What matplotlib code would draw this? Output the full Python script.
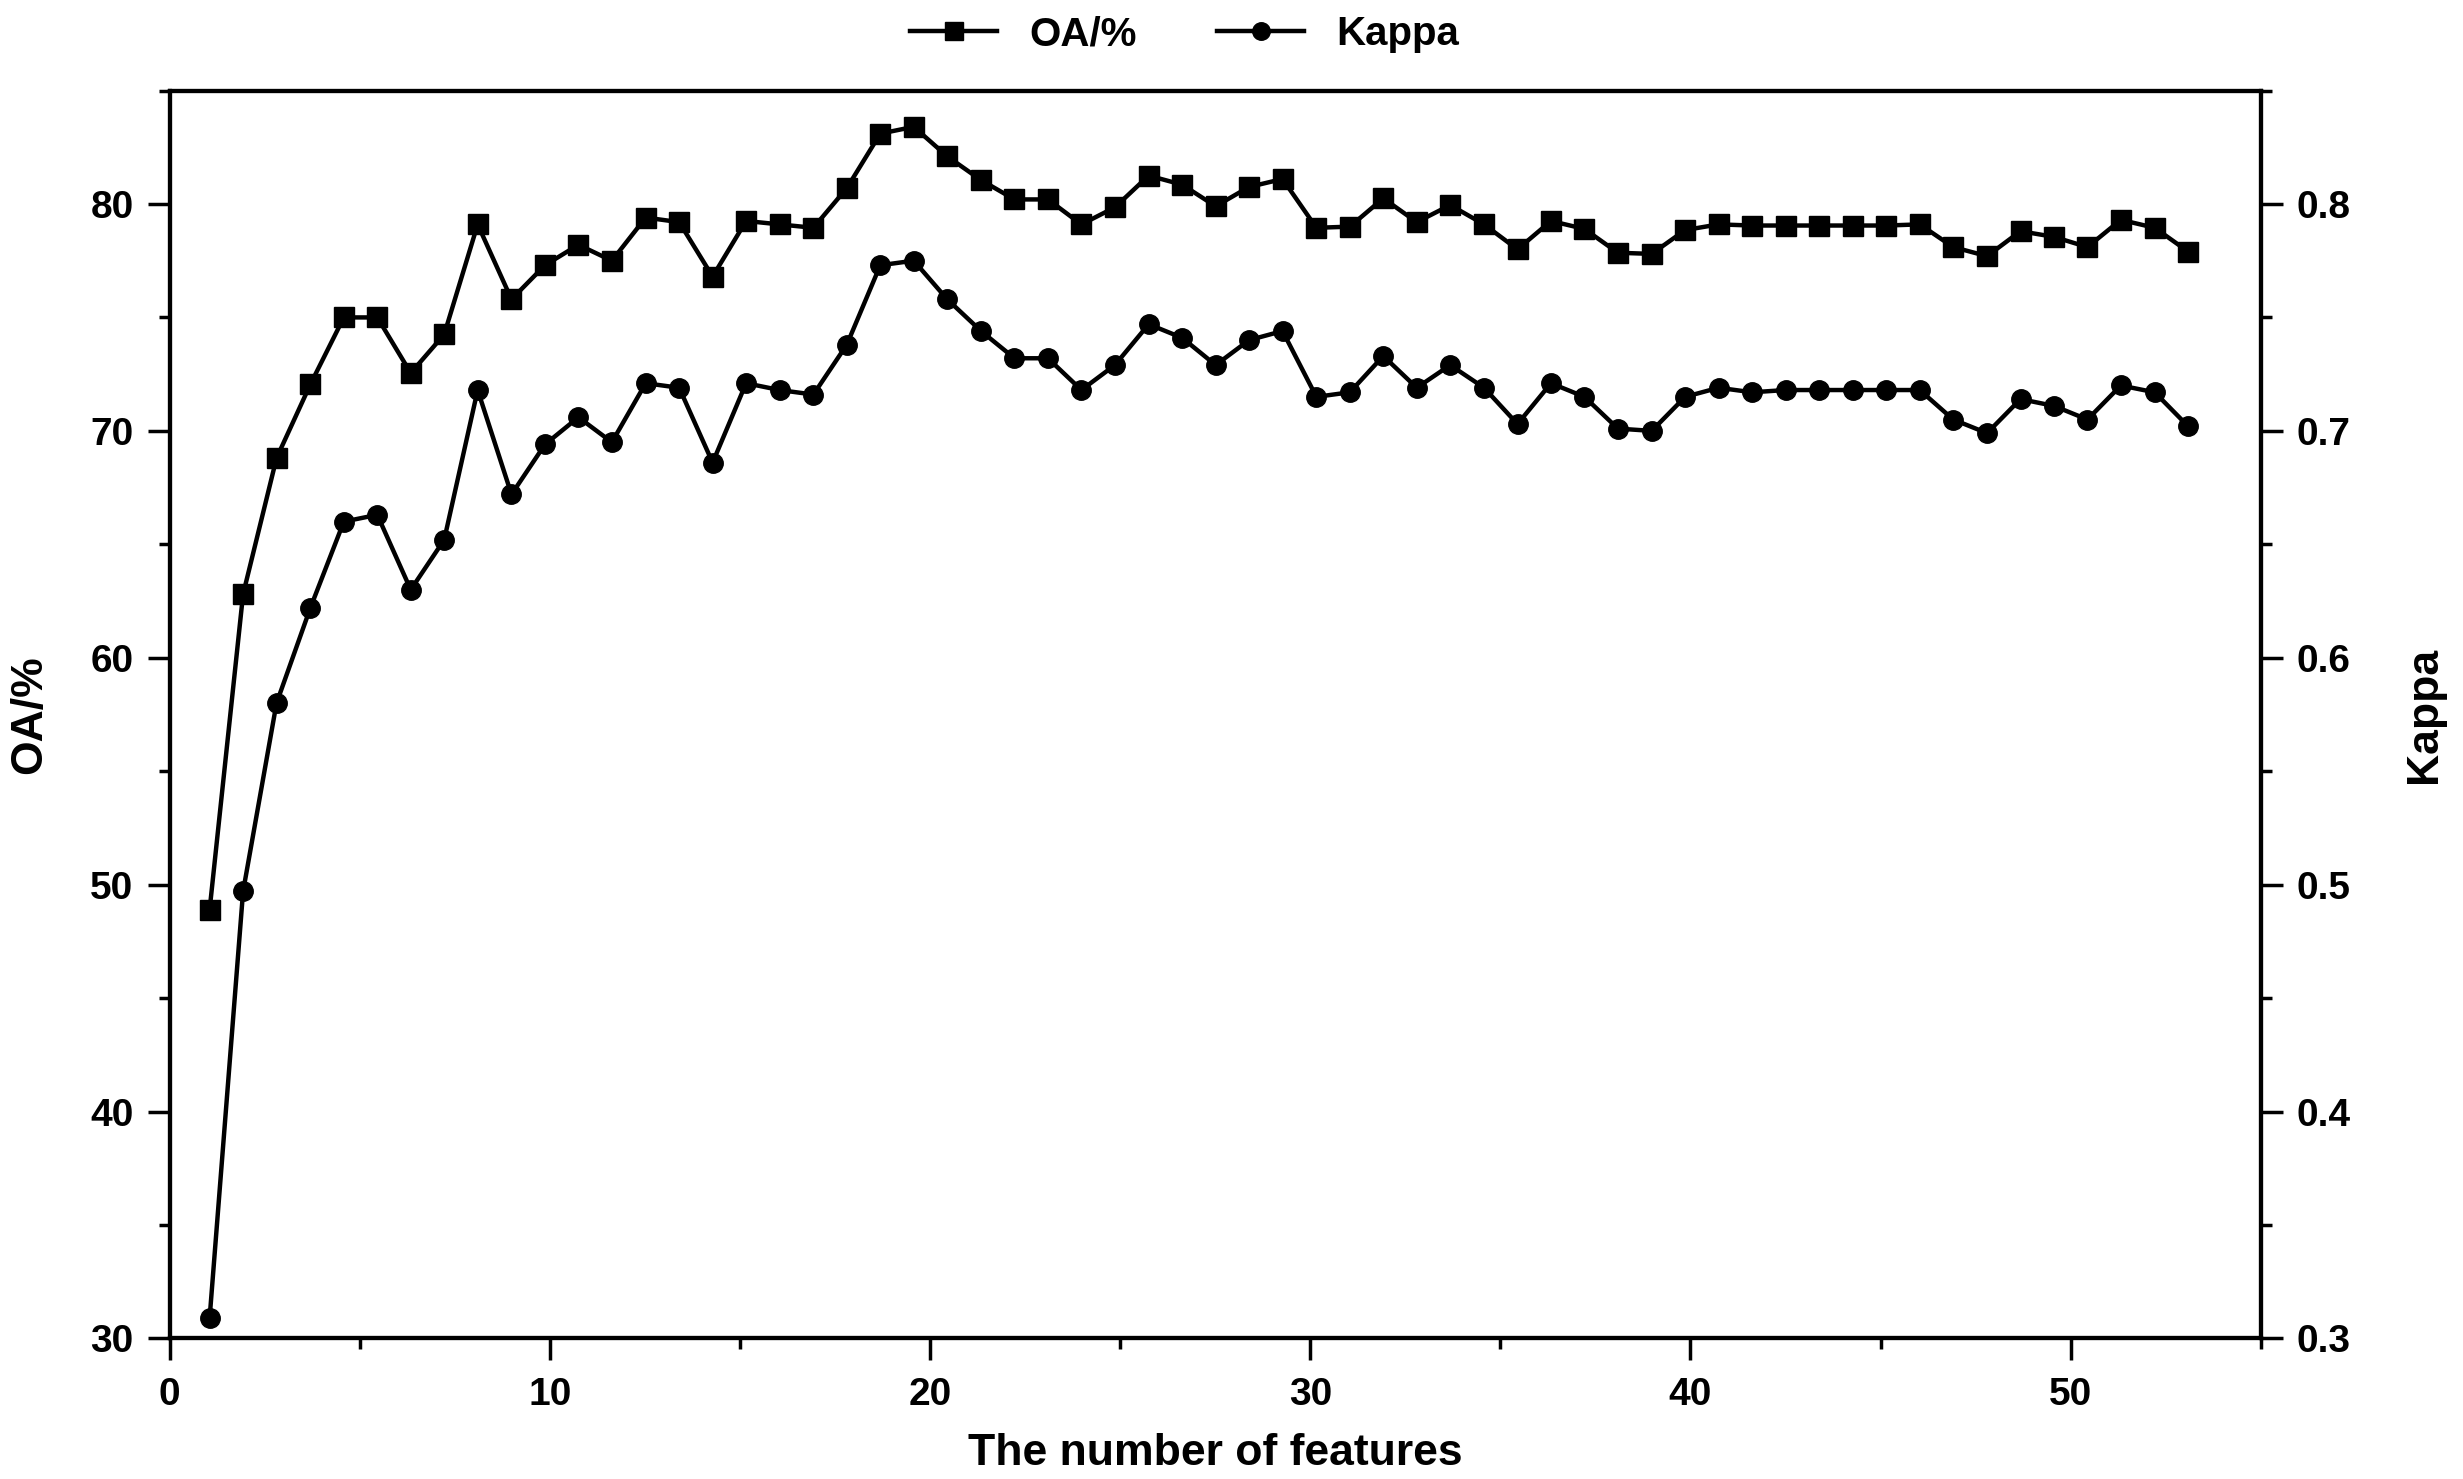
import matplotlib
matplotlib.use("Agg")
import matplotlib.pyplot as plt
from matplotlib.ticker import MultipleLocator

plt.rcParams['font.family'] = ['Liberation Sans', 'DejaVu Sans']
plt.rcParams['font.weight'] = 'bold'

features = [1.05, 1.93, 2.81, 3.70, 4.58, 5.46, 6.34, 7.22, 8.10, 8.99,
            9.87, 10.75, 11.63, 12.52, 13.40, 14.28, 15.16, 16.04, 16.93, 17.81,
            18.69, 19.57, 20.45, 21.34, 22.22, 23.10, 23.98, 24.86, 25.75, 26.63,
            27.51, 28.39, 29.27, 30.16, 31.04, 31.92, 32.80, 33.68, 34.57, 35.45,
            36.33, 37.21, 38.09, 38.98, 39.86, 40.74, 41.62, 42.50, 43.39, 44.27,
            45.15, 46.03, 46.91, 47.80, 48.68, 49.56, 50.44, 51.32, 52.21, 53.09]

oa = [48.9, 62.8, 68.8, 72.05, 75.0, 75.0, 72.55, 74.25, 79.1, 75.8,
      77.3, 78.2, 77.5, 79.4, 79.2, 76.8, 79.25, 79.1, 78.95, 80.7,
      83.1, 83.4, 82.1, 81.05, 80.2, 80.2, 79.1, 79.85, 81.25, 80.85,
      79.9, 80.75, 81.1, 78.95, 79.0, 80.25, 79.2, 79.95, 79.1, 78.0,
      79.25, 78.9, 77.85, 77.8, 78.85, 79.1, 79.05, 79.05, 79.05, 79.05,
      79.05, 79.1, 78.1, 77.7, 78.8, 78.55, 78.1, 79.3, 78.95, 77.9]

kappa = [0.309, 0.497, 0.580, 0.622, 0.660, 0.663, 0.630, 0.652, 0.718, 0.672,
         0.694, 0.706, 0.695, 0.721, 0.719, 0.686, 0.721, 0.718, 0.716, 0.738,
         0.773, 0.775, 0.758, 0.744, 0.732, 0.732, 0.718, 0.729, 0.747, 0.741,
         0.729, 0.740, 0.744, 0.715, 0.717, 0.733, 0.719, 0.729, 0.719, 0.703,
         0.721, 0.715, 0.701, 0.700, 0.715, 0.719, 0.717, 0.718, 0.718, 0.718,
         0.718, 0.718, 0.705, 0.699, 0.714, 0.711, 0.705, 0.720, 0.717, 0.702]

fig = plt.figure(figsize=(24.63, 14.79), dpi=100)
ax = fig.add_axes([0.0689, 0.095, 0.849, 0.8438])
ax2 = ax.twinx()

l1, = ax.plot(features, oa, color='black', lw=3.2, marker='s', markersize=14,
              label='OA/%')
l2, = ax2.plot(features, kappa, color='black', lw=3.2, marker='o', markersize=14,
               label='Kappa')

ax.set_xlim(0, 55)
ax.set_ylim(30, 85)
ax2.set_ylim(0.3, 0.85)

ax.xaxis.set_major_locator(MultipleLocator(10))
ax.xaxis.set_minor_locator(MultipleLocator(5))
ax.yaxis.set_major_locator(MultipleLocator(10))
ax.yaxis.set_minor_locator(MultipleLocator(5))
ax2.yaxis.set_major_locator(MultipleLocator(0.1))
ax2.yaxis.set_minor_locator(MultipleLocator(0.05))
ax2.yaxis.set_major_formatter(matplotlib.ticker.FormatStrFormatter('%.1f'))

for a in (ax, ax2):
    for s in a.spines.values():
        s.set_linewidth(3)
    a.tick_params(which='major', length=16, width=2.5, labelsize=28, pad=10)
    a.tick_params(which='minor', length=8, width=2.5)

ax.tick_params(axis='x', pad=12)

ax.set_xlabel('The number of features', fontsize=32, fontweight='bold')
ax.set_ylabel('OA/%', fontsize=32, fontweight='bold')
ax2.set_ylabel('Kappa', fontsize=32, fontweight='bold')
ax.xaxis.set_label_coords(0.5, -0.0755)
ax.yaxis.set_label_coords(-0.057, 0.5)
ax2.yaxis.set_label_coords(1.0685, 0.5)

fig.legend(handles=[l1, l2], loc='center', bbox_to_anchor=(0.481, 0.977),
           ncol=2, frameon=False, fontsize=29, handlelength=2.15,
           handletextpad=0.8, columnspacing=2.0, markerscale=0.9)

fig.savefig('out.png', dpi=100)
